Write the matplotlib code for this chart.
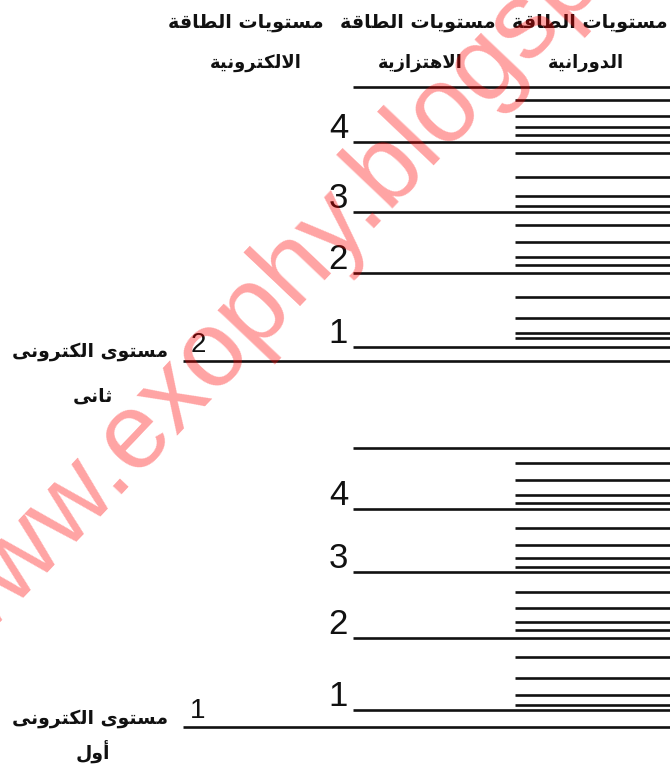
import matplotlib
matplotlib.use("Agg")
from matplotlib import pyplot as plt

plt.rcParams['font.family'] = ['DejaVu Sans']

# Energy values (arbitrary units, 0 = bottom of figure)
ELECTRONIC_LEVELS = [40, 406]
ELECTRONIC_NUMBERS = ["1", "2"]
ELECTRONIC_NAMES = [("مستوى الكترونى", "أول"), ("مستوى الكترونى", "ثانى")]

VIB_LEVELS = [
    [57, 129, 195, 258, 319],   # in electronic level 1
    [420, 494, 555, 625, 680],  # in electronic level 2
]
VIB_NUMBERS = ["1", "2", "3", "4"]

ROT_LEVELS = [
    [[62, 72, 89, 110], [137, 145, 159, 175], [200, 209, 222, 239], [264, 272, 287, 304]],
    [[429, 434, 449, 470], [502, 510, 525, 542], [561, 571, 590, 614], [632, 640, 651, 667]],
]

HEADER_TOP = "مستويات الطاقة"
HEADER_NAMES = ["الالكترونية", "الاهتزازية", "الدورانية"]

WATERMARK = "www.exophy.blogspot.com"

# column layout (pixels)
X_END = 670
ELEC_X0 = 183
VIB_X0 = 353
ROT_X0 = 515
HEADER_TOP_X = [246, 418, 590]
HEADER_NAME_X = [256, 420, 586]
# baseline offsets of the two name lines from their electronic level
NAME_DY = [(3, -32), (4, -41)]

# Arabic presentation forms: isolated, final, initial, medial
FORMS = {
    'ا': ('\uFE8D', '\uFE8E', None, None),
    'أ': ('\uFE83', '\uFE84', None, None),
    'ة': ('\uFE93', '\uFE94', None, None),
    'ت': ('\uFE95', '\uFE96', '\uFE97', '\uFE98'),
    'ث': ('\uFE99', '\uFE9A', '\uFE9B', '\uFE9C'),
    'د': ('\uFEA9', '\uFEAA', None, None),
    'ر': ('\uFEAD', '\uFEAE', None, None),
    'ز': ('\uFEAF', '\uFEB0', None, None),
    'س': ('\uFEB1', '\uFEB2', '\uFEB3', '\uFEB4'),
    'ط': ('\uFEC1', '\uFEC2', '\uFEC3', '\uFEC4'),
    'ق': ('\uFED5', '\uFED6', '\uFED7', '\uFED8'),
    'ك': ('\uFED9', '\uFEDA', '\uFEDB', '\uFEDC'),
    'ل': ('\uFEDD', '\uFEDE', '\uFEDF', '\uFEE0'),
    'م': ('\uFEE1', '\uFEE2', '\uFEE3', '\uFEE4'),
    'ن': ('\uFEE5', '\uFEE6', '\uFEE7', '\uFEE8'),
    'ه': ('\uFEE9', '\uFEEA', '\uFEEB', '\uFEEC'),
    'و': ('\uFEED', '\uFEEE', None, None),
    'ى': ('\uFEEF', '\uFEF0', None, None),
    'ي': ('\uFEF1', '\uFEF2', '\uFEF3', '\uFEF4'),
    'لا': ('\uFEFB', '\uFEFC', None, None),
    'لأ': ('\uFEF7', '\uFEF8', None, None),
}


def shape_arabic(text):
    # matplotlib has no arabic shaping, so join the letters and lay them out right to left by hand
    words = []
    for word in text.split(' '):
        toks = []
        i = 0
        while i < len(word):
            if word[i] == 'ل' and i + 1 < len(word) and word[i + 1] in 'اأ':
                toks.append(word[i:i + 2])
                i += 2
            else:
                toks.append(word[i])
                i += 1
        glyphs = []
        for k, t in enumerate(toks):
            iso, fin, ini, med = FORMS[t]
            prev = k > 0 and FORMS[toks[k - 1]][2] is not None
            nxt = ini is not None and k + 1 < len(toks)
            if prev and nxt:
                glyphs.append(med)
            elif prev:
                glyphs.append(fin)
            elif nxt:
                glyphs.append(ini)
            else:
                glyphs.append(iso)
        words.append(''.join(reversed(glyphs)))
    return ' '.join(reversed(words))


fig = plt.figure(figsize=(6.70, 7.67), dpi=100)
ax = fig.add_axes([0, 0, 1, 1])
ax.set_xlim(0, 670)
ax.set_ylim(0, 767)
ax.axis("off")

LINE = dict(color="#111111", lw=1.9, solid_capstyle="butt")
ARABIC = dict(fontweight="bold", color="#111111")

for e, num, names, dy, vibs, rots in zip(ELECTRONIC_LEVELS, ELECTRONIC_NUMBERS, ELECTRONIC_NAMES,
                                         NAME_DY, VIB_LEVELS, ROT_LEVELS):
    ax.plot([ELEC_X0, X_END], [e, e], **LINE)
    ax.text(ELEC_X0 + 15, e + 3, num, ha="center", va="bottom", fontsize=20,
            family="Liberation Sans", color="#111111")
    ax.text(90, e + dy[0], shape_arabic(names[0]), ha="center", va="baseline", fontsize=13.5, **ARABIC)
    ax.text(93, e + dy[1], shape_arabic(names[1]), ha="center", va="baseline", fontsize=13.5, **ARABIC)
    for v, ve in enumerate(vibs):
        ax.plot([VIB_X0, X_END], [ve, ve], **LINE)
        if v < len(VIB_NUMBERS):
            ax.text(VIB_X0 - 5, ve + 4, VIB_NUMBERS[v], ha="right", va="baseline", fontsize=25,
                    family="Liberation Sans", color="#111111")
    for group in rots:
        for r in group:
            ax.plot([ROT_X0, X_END], [r, r], **LINE)

for x in HEADER_TOP_X:
    ax.text(x, 745, shape_arabic(HEADER_TOP), ha="center", va="center", fontsize=13.8, **ARABIC)
for x, name in zip(HEADER_NAME_X, HEADER_NAMES):
    ax.text(x, 704, shape_arabic(name), ha="center", va="center", fontsize=13, **ARABIC)

# red watermark across the scan
ax.text(-40, 102, WATERMARK, rotation=46.5, rotation_mode="anchor", ha="left", va="baseline",
        fontsize=77, family="Liberation Sans", color="red", alpha=0.36, zorder=5)

fig.savefig("out.png", dpi=100)
